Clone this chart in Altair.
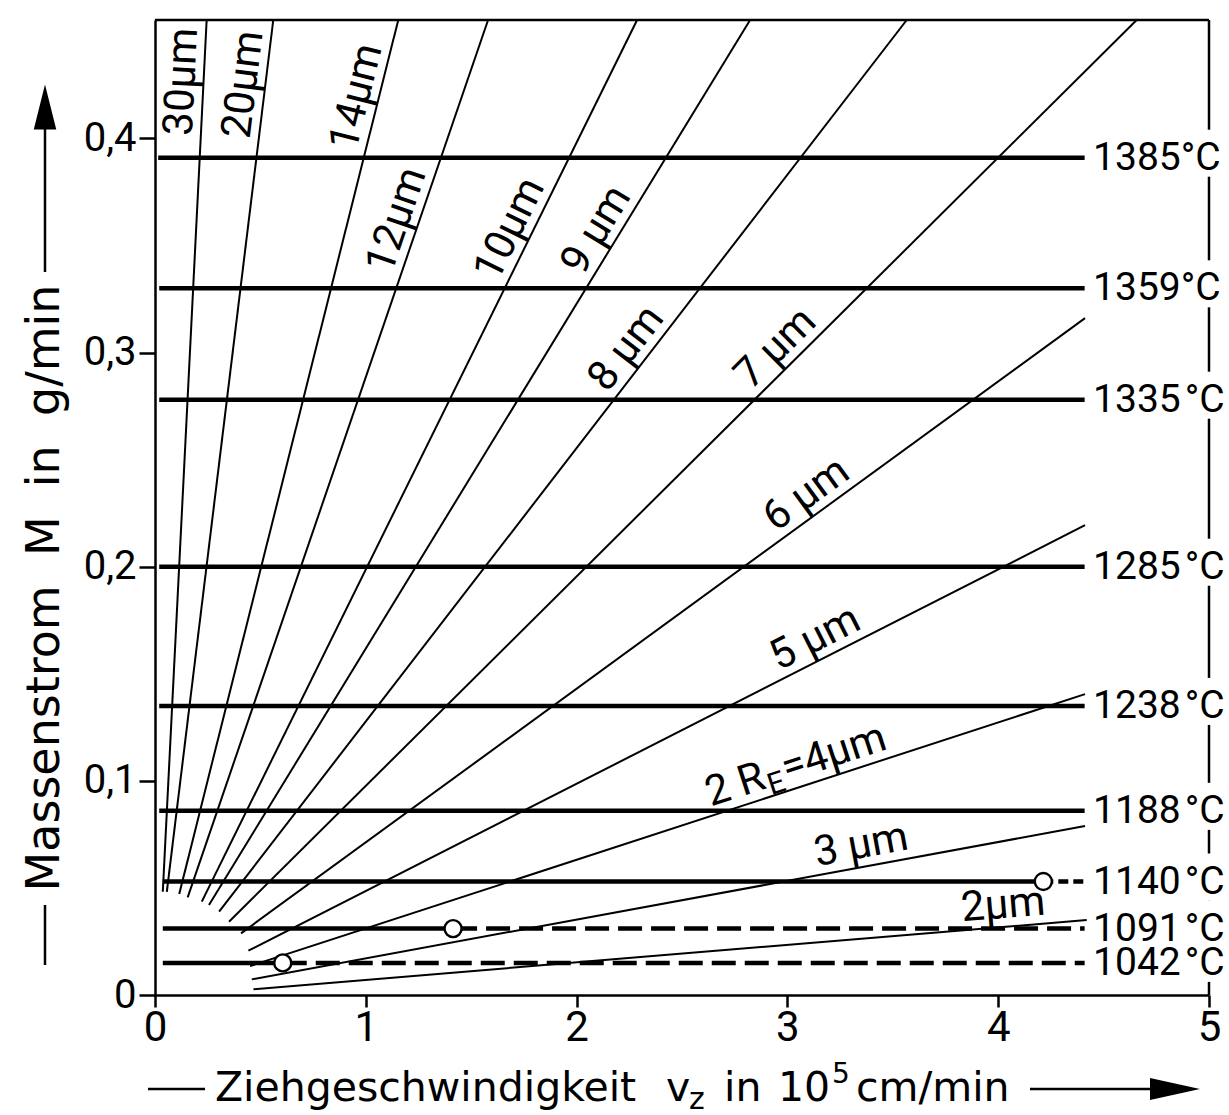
import math
import altair as alt
import pandas as pd

# ---------------------------------------------------------------- data
# Lines of constant fibre diameter 2R_E: start and end point (v_z, M)
diam_text = ["30µm", "20µm", "14µm", "12µm", "10µm", "9 µm", "8 µm",
             "7 µm", "6 µm", "5 µm", "4µm", "3 µm", "2µm"]
diam_x0 = [0.037, 0.056, 0.115, 0.155, 0.222, 0.256, 0.304, 0.351, 0.408, 0.443, 0.451, 0.459, 0.467]
diam_y0 = [0.0482, 0.0482, 0.0472, 0.0456, 0.0436, 0.0420, 0.0389, 0.0342, 0.0288, 0.0207, 0.0135, 0.0073, 0.0027]
diam_x1 = [0.245, 0.561, 1.154, 1.580, 2.287, 2.823, 3.566, 4.657, 4.412, 4.412, 4.412, 4.412, 4.420]
diam_y1 = [0.4553, 0.4553, 0.4553, 0.4553, 0.4553, 0.4553, 0.4553, 0.4553, 0.3161, 0.2194, 0.1405, 0.0789, 0.0350]

# Melt temperatures: mass flow M, start of line, point where the line turns dashed
HS = "\u200a"
temp_text = ["1385°C", "1359°C", f"1335{HS}°C", f"1285{HS}°C", f"1238{HS}°C", f"1188{HS}°C",
             f"1140{HS}°C", f"1091{HS}°C", f"1042{HS}°C"]
temp_M = [0.391, 0.330, 0.278, 0.200, 0.135, 0.086, 0.053, 0.031, 0.015]
temp_x0 = [0.015, 0.02, 0.02, 0.02, 0.02, 0.02, 0.037, 0.037, 0.037]
temp_limit = [None, None, None, None, None, None, 4.214, 1.414, 0.606]
temp_x_end = 4.41

x_ticks = [0, 1, 2, 3, 4, 5]
y_ticks = [0, 0.1, 0.2, 0.3, 0.4]

# ---------------------------------------------------------------- layout
LEFT, TOP, W, H = 155, 20, 1054, 975
X_MAX, Y_MAX = 5.0, 0.4553
KX, KY = W / X_MAX, H / Y_MAX          # pixels per data unit
LABEL_FONT = "Roboto"
TITLE_FONT = "DejaVu Sans"
INK = "black"

# where each diameter label sits along its line (fraction of the segment)
label_at = [0.928, 0.923, 0.906, 0.764, 0.752, 0.750, 0.617, 0.619, 0.685, 0.689, 0.555, 0.736, 0.902]

xs = alt.Scale(domain=[0, X_MAX], nice=False, zero=False)
ys = alt.Scale(domain=[0, Y_MAX], nice=False, zero=False)

x_axis = alt.Axis(values=x_ticks, format="d", title=None, grid=False,
                  domainColor=INK, domainWidth=2.5, tickColor=INK, tickWidth=2.5,
                  tickSize=12, labelFont=LABEL_FONT, labelFontSize=42, labelColor=INK,
                  labelPadding=0, labelFlush=False, labelOverlap=False)
y_axis = alt.Axis(values=y_ticks, title=None, grid=False,
                  labelExpr="datum.value == 0 ? '0' : replace(format(datum.value, '.1f'), '.', ',')",
                  domainColor=INK, domainWidth=2.5, tickColor=INK, tickWidth=2.5,
                  tickSize=16, labelFont=LABEL_FONT, labelFontSize=40, labelColor=INK,
                  labelPadding=3, labelOverlap=False)


def X(field):
    return alt.X(field, type="quantitative", scale=xs, axis=x_axis)


def Y(field):
    return alt.Y(field, type="quantitative", scale=ys, axis=y_axis)


# ---------------------------------------------------------------- diameter lines
diam = pd.DataFrame({"x0": diam_x0, "y0": diam_y0, "x1": diam_x1, "y1": diam_y1})
diam_lines = alt.Chart(diam).mark_rule(color=INK, strokeWidth=2).encode(
    x=X("x0"), y=Y("y0"), x2="x1:Q", y2="y1:Q")

rows = []
for i, t in enumerate(diam_text):
    f = label_at[i]
    lx = diam_x0[i] + f * (diam_x1[i] - diam_x0[i])
    ly = diam_y0[i] + f * (diam_y1[i] - diam_y0[i])
    ang = -math.degrees(math.atan2((diam_y1[i] - diam_y0[i]) * KY, (diam_x1[i] - diam_x0[i]) * KX))
    rows.append({"lx": lx, "ly": ly, "ang": ang % 360, "t": t})
lab = pd.DataFrame(rows)
i4 = diam_text.index("4µm")
plain = lab.drop(index=i4)
special = lab.loc[[i4]]

diam_labels = alt.Chart(plain).mark_text(
    align="center", baseline="bottom", font=LABEL_FONT, fontSize=42, color=INK
).encode(x=X("lx"), y=Y("ly"), angle=alt.Angle("ang:Q", scale=None), text="t:N")


def piece(text, dx, dy, size):
    return alt.Chart(special.assign(t=text)).mark_text(
        align="left", baseline="bottom", font=LABEL_FONT, fontSize=size, color=INK, dx=dx, dy=dy
    ).encode(x=X("lx"), y=Y("ly"), angle=alt.Angle("ang:Q", scale=None), text="t:N")


label_4 = [piece("2 R", 0, 0, 42), piece("E", 61, 5, 30), piece("=4µm", 80, 0, 42)]

# ---------------------------------------------------------------- temperature lines
temp = pd.DataFrame({"M": temp_M, "x0": temp_x0, "t": temp_text,
                     "xs": [temp_x_end if v is None else v for v in temp_limit],
                     "lx": [temp_x_end + 0.04] * len(temp_M)})
temp_solid = alt.Chart(temp).mark_rule(color=INK, strokeWidth=4.5).encode(
    x=X("x0"), x2="xs:Q", y=Y("M"))

lim = temp[[v is not None for v in temp_limit]].assign(xe=temp_x_end)
long_dash = lim[lim["xs"] < 3]
short_dash = lim[lim["xs"] >= 3]
temp_dash_long = alt.Chart(long_dash).mark_rule(color=INK, strokeWidth=4.5, strokeDash=[24, 9]).encode(
    x=X("xs"), x2="xe:Q", y=Y("M"))
temp_dash_short = alt.Chart(short_dash).mark_rule(color=INK, strokeWidth=4.5, strokeDash=[10, 5]).encode(
    x=X("xs"), x2="xe:Q", y=Y("M"))
temp_marks = alt.Chart(lim).mark_point(shape="circle", size=290, filled=True, fill="white",
                                      stroke=INK, strokeWidth=2.4, opacity=1).encode(
    x=X("xs"), y=Y("M"))
temp_labels = alt.Chart(temp).mark_text(align="left", baseline="middle", font=LABEL_FONT,
                                       fontSize=39, color=INK).encode(
    x=X("lx"), y=Y("M"), text="t:N")

# ---------------------------------------------------------------- frame (top and broken right edge)
m_per_px = Y_MAX / H
gaps = sorted((m - 19 * m_per_px, m + 28 * m_per_px) for m in temp_M)
merged = []
for a, b in gaps:
    if merged and a <= merged[-1][1]:
        merged[-1][1] = max(merged[-1][1], b)
    else:
        merged.append([a, b])
segs, lo = [], 0.0
for a, b in merged:
    segs.append((lo, a))
    lo = b
segs.append((lo, Y_MAX))
right = pd.DataFrame({"x": [X_MAX] * len(segs), "ya": [s[0] for s in segs], "yb": [s[1] for s in segs]})
right_edge = alt.Chart(right).mark_rule(color=INK, strokeWidth=2.5).encode(
    x=X("x"), y=Y("ya"), y2="yb:Q")
top = pd.DataFrame({"xa": [0.0], "xb": [X_MAX], "y": [Y_MAX]})
top_edge = alt.Chart(top).mark_rule(color=INK, strokeWidth=2.5).encode(
    x=X("xa"), x2="xb:Q", y=Y("y"))

# ---------------------------------------------------------------- axis titles with arrows
one = pd.DataFrame({"k": [0]})


def text_at(text, px, py, size, angle=0, align="left", baseline="alphabetic"):
    props = dict(align=align, baseline=baseline, font=TITLE_FONT, fontSize=size, color=INK)
    if angle:
        props["angle"] = angle
    return alt.Chart(pd.DataFrame({"t": [text]})).mark_text(**props).encode(
        x=alt.value(px - LEFT), y=alt.value(py - TOP), text="t:N")


def hline(xa, xb, py):
    return alt.Chart(one).mark_rule(color=INK, strokeWidth=2.5).encode(
        x=alt.value(xa - LEFT), x2=alt.value(xb - LEFT), y=alt.value(py - TOP))


def vline(px, ya, yb):
    return alt.Chart(one).mark_rule(color=INK, strokeWidth=2.5).encode(
        x=alt.value(px - LEFT), y=alt.value(ya - TOP), y2=alt.value(yb - TOP))


def head(px, py, path, size):
    return alt.Chart(one).mark_point(shape=path, size=size, filled=True, color=INK, opacity=1).encode(
        x=alt.value(px - LEFT), y=alt.value(py - TOP))


XB = 1101
x_title = [
    hline(148, 205, 1089),
    text_at("Ziehgeschwindigkeit", 215, XB, 41),
    text_at("v", 666, XB, 41),
    text_at("z", 689, XB + 8, 30),
    text_at("in", 724, XB, 41),
    text_at("10", 778, XB, 41),
    text_at("5", 832, XB - 18, 28),
    text_at("cm/min", 856, XB, 41),
    hline(1030, 1160, 1089),
    head(1175, 1089, "M-1,-0.44L1,0L-1,0.44Z", 2500),
]
NB = "\u00a0"
y_title = [
    text_at(f"Massenstrom{NB*2}M{NB*2}in{NB*2}g/min", 45, 588, 46, angle=270,
            align="center", baseline="middle"),
    vline(45, 125, 272),
    vline(45, 905, 965),
    head(45, 107, "M-0.5,1L0,-1L0.5,1Z", 2025),
]

chart = alt.layer(
    diam_lines, top_edge, right_edge,
    temp_solid, temp_dash_long, temp_dash_short, temp_marks,
    diam_labels, *label_4, temp_labels,
    *x_title, *y_title,
).properties(
    width=W, height=H,
    padding={"left": LEFT, "top": TOP, "right": 1229 - LEFT - W, "bottom": 1115 - TOP - H},
    autosize=alt.AutoSizeParams(type="none"),
    background="white",
).configure_view(stroke=None)

chart.save("out.html", embed_options={"renderer": "svg", "actions": False})
